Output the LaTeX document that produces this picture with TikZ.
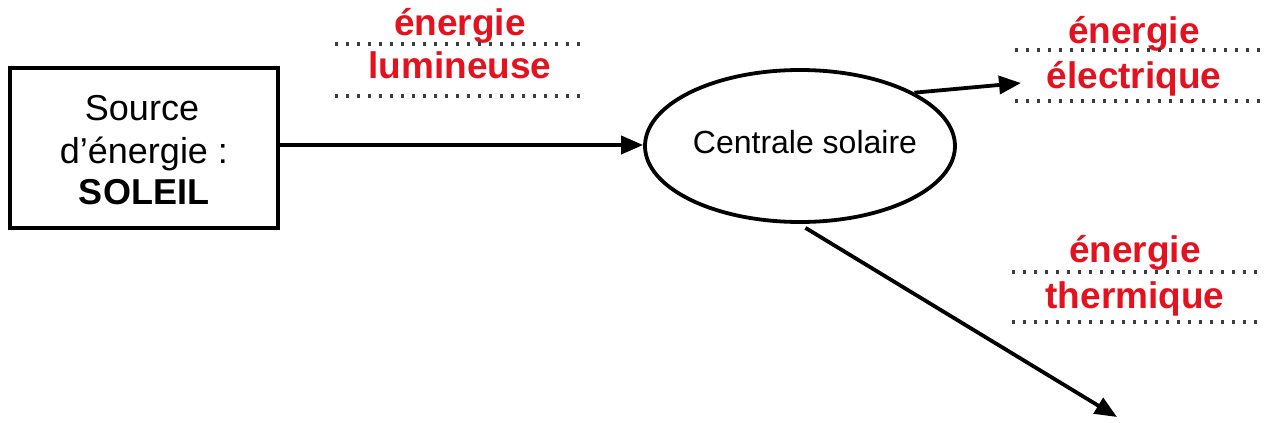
\documentclass[tikz,border=0pt]{standalone}
\usepackage{fontspec}
\setmainfont{Liberation Sans}
\usetikzlibrary{shapes.geometric,arrows.meta}
\definecolor{lblred}{RGB}{228,18,30}
\definecolor{dotgray}{RGB}{60,60,60}
\tikzset{
  srcbox/.style={draw, line width=2.2pt, minimum width=134pt, minimum height=80pt, inner sep=0pt},
  plant/.style={draw, ellipse, line width=1.9pt, minimum width=155pt, minimum height=76pt, inner sep=0pt},
  txt/.style={anchor=base, inner sep=0pt, font=\fontsize{18}{21}\selectfont},
  lbl/.style={anchor=base, inner sep=0pt, text=lblred, font=\fontsize{18.5}{22}\selectfont\bfseries},
  flow/.style={line width=1.9pt, -{Triangle[length=11pt,width=9pt]}},
  dotline/.style={dotgray, line width=1.7pt, dash pattern=on 1.5pt off 4pt}
}
\begin{document}
\begin{tikzpicture}[x=0.5pt,y=-0.5pt]
\useasboundingbox (0,0) rectangle (1266,423);
% source box
\node[srcbox] (src) at (144,148) {};
\node[txt] (t1) at (142,120) {Source};
\node[txt] (t2) at (144,163) {d’énergie :};
\node[txt, font=\fontsize{18}{21}\selectfont\bfseries] (t3) at (144,204) {SOLEIL};
% plant
\node[plant] (ell) at (800,146) {};
\node[txt, font=\fontsize{16}{19}\selectfont] (ct) at (805,153) {Centrale solaire};
% label blocks
\node[lbl] (l1) at (460,35) {énergie};
\node[lbl] (l2) at (460,78) {lumineuse};
\draw[dotline] (335,44) -- (580,44);
\draw[dotline] (335,96) -- (580,96);
\node[lbl] (e1) at (1134,43) {énergie};
\node[lbl] (e2) at (1134,88) {électrique};
\draw[dotline] (1015,50) -- (1260,50);
\draw[dotline] (1015,101) -- (1260,101);
\node[lbl] (h1) at (1135,262) {énergie};
\node[lbl] (h2) at (1135,308) {thermique};
\draw[dotline] (1012,272) -- (1258,272);
\draw[dotline] (1012,322) -- (1258,322);
% connectors
\coordinate (elecend) at (1021,83);
\coordinate (thermend) at (1117,417);
\draw[flow] (src.east |- 0,145) -- (ell.west |- 0,145);
\draw[flow] (ell.25) -- (elecend);
\draw[flow] ([yshift=-2pt]ell.-86) -- (thermend);
\end{tikzpicture}
\end{document}
